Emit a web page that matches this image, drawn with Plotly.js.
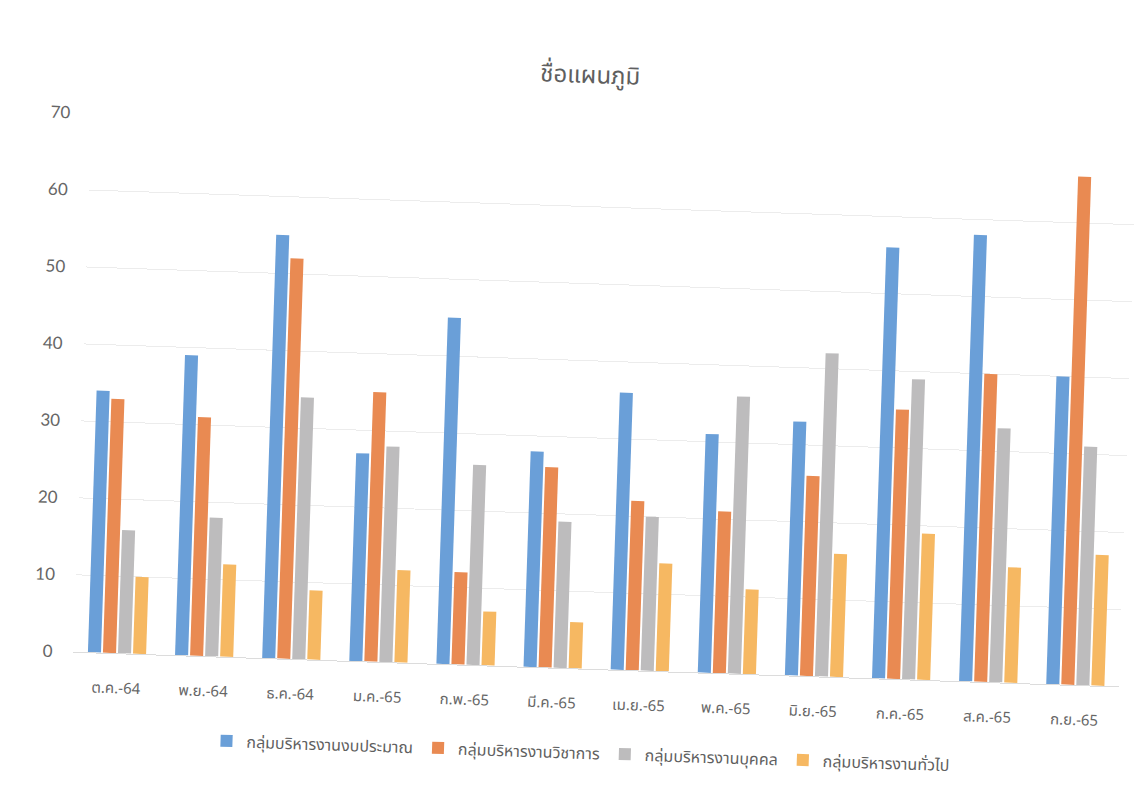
<!DOCTYPE html>
<html>
<head>
<meta charset="utf-8">
<script src="https://cdn.plot.ly/plotly-3.0.1.min.js"></script>
<style>
  html, body { margin: 0; padding: 0; background: #ffffff; overflow: hidden; }
  #chart { width: 1134px; height: 804px; transform: rotate(1.9deg); transform-origin: 567px 402px; }
</style>
</head>
<body>
<div id="chart"></div>
<script>
const months = ["ต.ค.-64", "พ.ย.-64", "ธ.ค.-64", "ม.ค.-65", "ก.พ.-65", "มี.ค.-65",
                "เม.ย.-65", "พ.ค.-65", "มิ.ย.-65", "ก.ค.-65", "ส.ค.-65", "ก.ย.-65"];
const seriesNames = ["กลุ่มบริหารงานงบประมาณ", "กลุ่มบริหารงานวิชาการ", "กลุ่มบริหารงานบุคคล", "กลุ่มบริหารงานทั่วไป"];
const budgetGroup   = [34, 39, 55, 27, 45, 28, 36, 31, 33, 56, 58, 40];
const academicGroup = [33, 31, 52, 35, 12, 26, 22, 21, 26, 35, 40, 66];
const personnelGroup= [16, 18, 34, 28, 26, 19, 20, 36, 42, 39, 33, 31];
const generalGroup  = [10, 12,  9, 12,  7,  6, 14, 11, 16, 19, 15, 17];
const yTicks = [0, 10, 20, 30, 40, 50, 60, 70];

const colors = ["#6a9fd8", "#e98a52", "#bdbcbd", "#f6b862"];
const allValues = [budgetGroup, academicGroup, personnelGroup, generalGroup];
const thaiFont = "'Noto Sans Thai', 'Noto Sans', 'DejaVu Sans', sans-serif";

const traces = allValues.map((vals, i) => ({
  type: "bar",
  name: seriesNames[i],
  x: months,
  y: vals,
  marker: { color: colors[i] },
  hoverinfo: "skip"
}));

const layout = {
  width: 1134,
  height: 804,
  paper_bgcolor: "#ffffff",
  plot_bgcolor: "#ffffff",
  margin: { l: 82, r: 6, t: 129, b: 136 },
  barmode: "group",
  bargap: 0.31,
  bargroupgap: 0.13,
  title: {
    text: "ชื่อแผนภูมิ",
    x: 0.511, xref: "container", xanchor: "center",
    y: 1 - 74 / 804, yanchor: "middle",
    font: { family: thaiFont, size: 24, color: "#5f5f5f" }
  },
  xaxis: {
    type: "category",
    showgrid: false,
    showline: true,
    linecolor: "#dcdcdc",
    linewidth: 1,
    ticks: "",
    ticklabelstandoff: 21,
    tickfont: { family: thaiFont, size: 15, color: "#666666" }
  },
  yaxis: {
    range: [0, 70],
    tickvals: yTicks,
    ticktext: yTicks.map(String),
    showgrid: true,
    gridcolor: "#ececec",
    gridwidth: 1,
    zeroline: false,
    showline: false,
    ticks: "",
    ticklabelstandoff: 20,
    tickfont: { family: "Lato, 'Open Sans', sans-serif", size: 17, color: "#666666" }
  },
  legend: {
    orientation: "h",
    x: 0.488, xanchor: "center",
    y: -0.156, yanchor: "middle",
    font: { family: thaiFont, size: 16, color: "#5f5f5f" },
    itemwidth: 30,
    tracegroupgap: 0
  },
  showlegend: true
};

Plotly.newPlot("chart", traces, layout, { displayModeBar: false, staticPlot: true });
</script>
</body>
</html>
